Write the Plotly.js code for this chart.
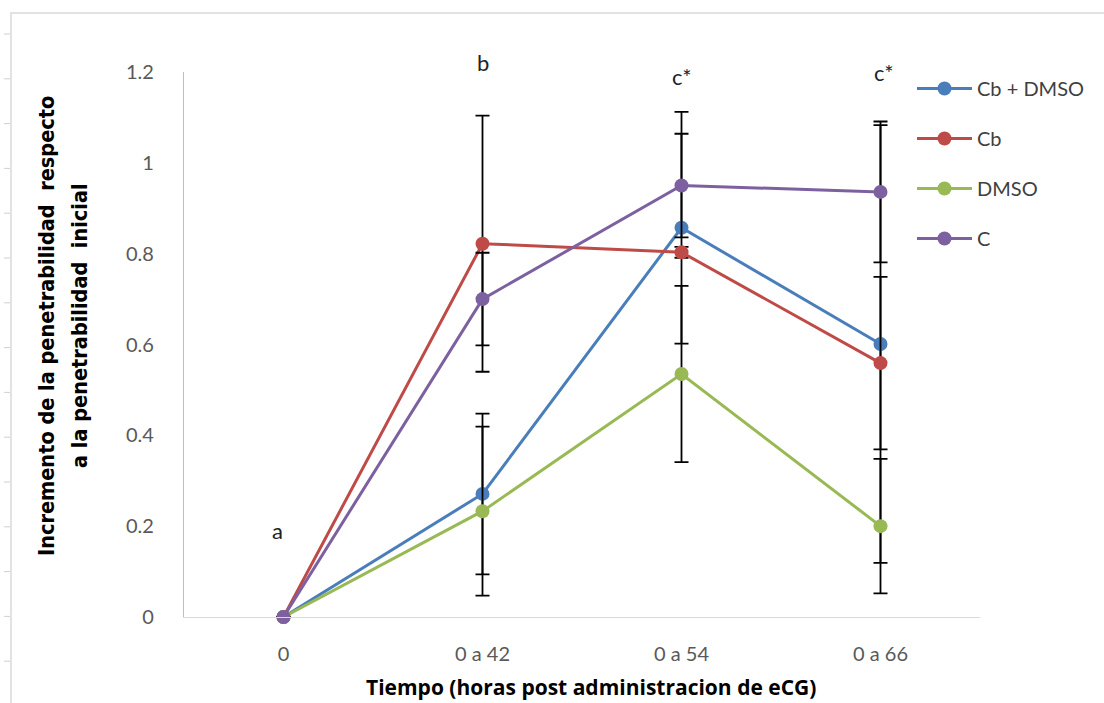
<!DOCTYPE html>
<html>
<head>
<meta charset="utf-8">
<script src="https://cdn.plot.ly/plotly-3.0.1.min.js"></script>
<style>html,body{margin:0;padding:0;background:#fff;}#chart{width:1104px;height:703px;}</style>
</head>
<body>
<div id="chart"></div>
<script>
const categories = ["0", "0 a 42", "0 a 54", "0 a 66"];
const seriesNames = ["Cb + DMSO", "Cb", "DMSO", "C"];
const cbDmso = [0, 0.271, 0.857, 0.601];
const cbDmsoErr = [0, 0.177, 0.255, 0.482];
const cb = [0, 0.822, 0.803, 0.559];
const cbErr = [0, 0.282, 0.012, 0.19];
const dmso = [0, 0.233, 0.535, 0.200];
const dmsoErr = [0, 0.186, 0.194, 0.148];
const c = [0, 0.700, 0.950, 0.936];
const cErr = [0, 0.102, 0.114, 0.155];
const letterLabels = ["a", "b", "c*", "c*"];
const letterY = [0.19, 1.222, 1.19, 1.20];
const yTicks = [0, 0.2, 0.4, 0.6, 0.8, 1, 1.2];
const yTickText = ["0", "0.2", "0.4", "0.6", "0.8", "1", "1.2"];
const yTitleLines = ["Incremento de la penetrabilidad  respecto", "a la penetrabilidad  inicial"];
const xTitle = "Tiempo (horas post administracion de eCG)";

const colors = ["#4A7EBB", "#BE4B48", "#98B954", "#7D60A0"];
const vals = [cbDmso, cb, dmso, c];
const errs = [cbDmsoErr, cbErr, dmsoErr, cErr];
const FONT = "Lato, 'Open Sans', sans-serif";

const traces = seriesNames.map((n, i) => ({
  type: "scatter",
  mode: "lines+markers",
  name: n,
  legendgroup: "g" + i,
  x: categories,
  y: vals[i],
  line: {color: colors[i], width: 3},
  marker: {color: colors[i], size: 14},
  error_y: {type: "data", array: errs[i], visible: true, color: "#000", thickness: 1.8, width: 7},
  cliponaxis: false
}));

// plot area: x 184..980 px, y 72..617 px
const px2x = p => (p - 184) / 796;
const px2y = p => (617 - p) / 545;

const annotations = letterLabels.map((t, i) => ({
  xref: "x", yref: "paper", x: i === 0 ? -0.03 : (i === 3 ? 3.02 : i), y: letterY[i] / 1.2,
  yanchor: "middle", xanchor: "center",
  text: t, showarrow: false, font: {family: FONT, size: 22, color: "#222"}
}));

const yTitleX = [46, 79];
yTitleLines.forEach((t, k) => annotations.push({
  xref: "paper", yref: "paper", x: px2x(yTitleX[k]), y: px2y(326), textangle: -90,
  text: "<b>" + t + "</b>",
  showarrow: false, font: {family: "'DejaVu Sans Condensed', 'DejaVu Sans', sans-serif", size: 21.5, color: "#000"},
  xanchor: "center", yanchor: "middle"
}));
annotations.push({
  xref: "paper", yref: "paper", x: px2x(591), y: px2y(687),
  text: "<b>" + xTitle + "</b>",
  showarrow: false, font: {family: "'Open Sans', Lato, sans-serif", size: 21, color: "#000"},
  xanchor: "center", yanchor: "middle"
});

const shapes = [{
  type: "rect", xref: "paper", yref: "paper",
  x0: px2x(11), x1: px2x(1110), y0: px2y(710), y1: px2y(13),
  line: {color: "#D9D9D9", width: 1.5}, fillcolor: "rgba(0,0,0,0)", layer: "below"
}];
for (let k = 0; k < 15; k++) {
  const yy = 34 + k * 44.8;
  shapes.push({type: "line", xref: "paper", yref: "paper", x0: px2x(4), x1: px2x(10), y0: px2y(yy), y1: px2y(yy),
    line: {color: "#D0D0D0", width: 1}});
}

const layout = {
  width: 1104, height: 703,
  margin: {l: 184, r: 124, t: 72, b: 86},
  paper_bgcolor: "#fff", plot_bgcolor: "#fff",
  font: {family: FONT, size: 20, color: "#595959"},
  showlegend: true,
  legend: {
    x: px2x(912), y: px2y(69), xanchor: "left", yanchor: "top",
    font: {family: FONT, size: 20, color: "#404040"},
    traceorder: "grouped", tracegroupgap: 21, bgcolor: "rgba(0,0,0,0)", itemwidth: 55
  },
  xaxis: {
    type: "category", range: [-0.5, 3.5], showgrid: false, zeroline: false,
    showline: true, linecolor: "#D9D9D9", linewidth: 1.2, ticks: "",
    tickfont: {family: FONT, size: 20, color: "#595959"}, ticklabelstandoff: 19, fixedrange: true
  },
  yaxis: {
    range: [0, 1.2], tickvals: yTicks, ticktext: yTickText, showgrid: false, zeroline: false,
    showline: true, linecolor: "#BFBFBF", linewidth: 1.2, ticks: "",
    tickfont: {family: FONT, size: 20, color: "#595959"}, ticklabelstandoff: 25, fixedrange: true
  },
  annotations: annotations,
  shapes: shapes
};

Plotly.newPlot("chart", traces, layout, {displayModeBar: false, staticPlot: true});
</script>
</body>
</html>
